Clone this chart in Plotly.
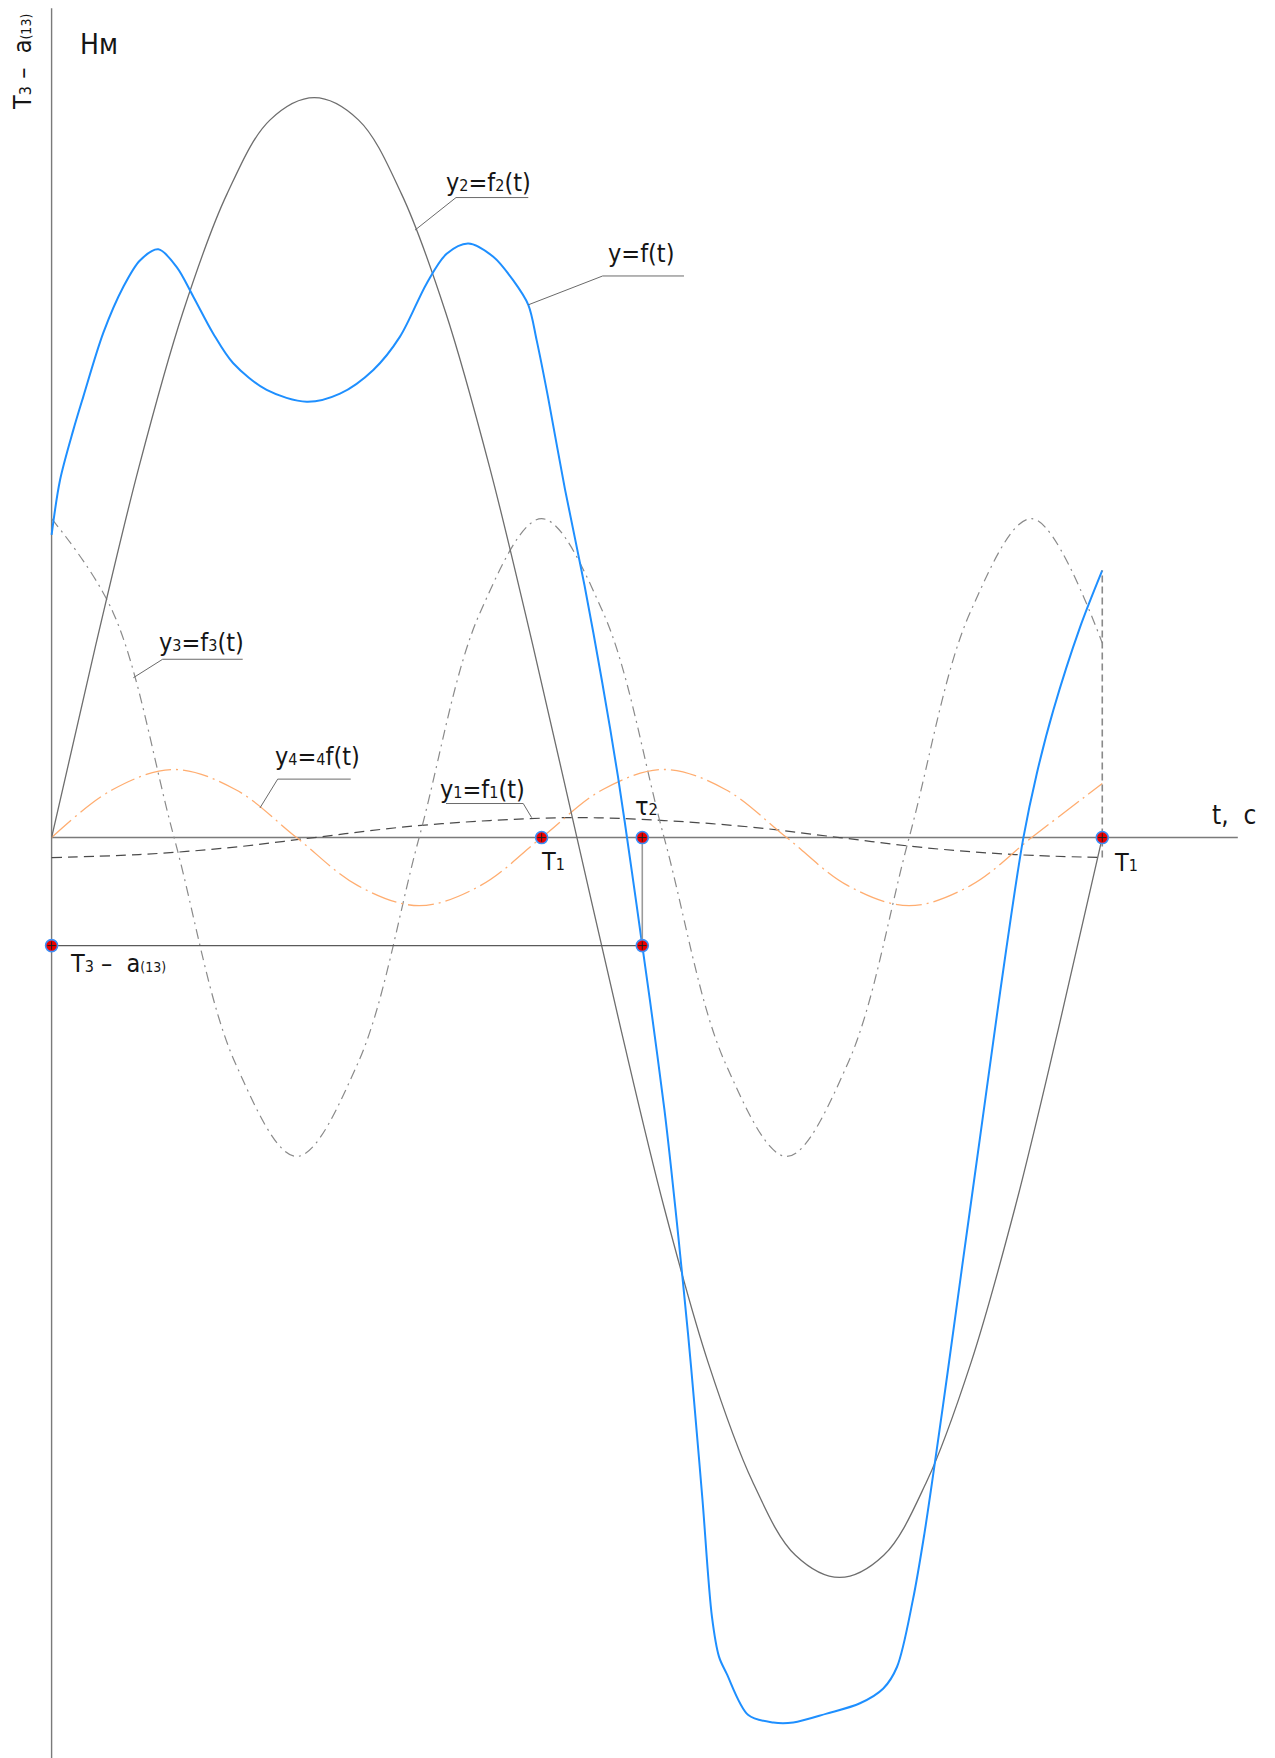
import plotly.graph_objects as go

# ---------------------------------------------------------------
# Time (one full period of y2 taken as 1) and characteristic points
# ---------------------------------------------------------------
T1 = 0.4664        # period of the 3rd/4th harmonic terms
TAU2 = 0.5622      # moment tau_2
T_END = 1.0        # end of the cycle
T3_LEVEL = -14.6   # value of y=f(t) at tau_2  (T3 - a(13))

# y2 = f2(t)
t_y2 = [0, 0.042, 0.083, 0.125, 0.167, 0.208, 0.25, 0.292, 0.333, 0.375,
        0.417, 0.458, 0.5, 0.542, 0.583, 0.625, 0.667, 0.708, 0.75, 0.792,
        0.833, 0.875, 0.917, 0.958, 1.0]
y2_vals = [0, 26, 50, 71, 87, 97, 100, 97, 87, 71, 50, 26, 0, -26, -50, -71,
           -87, -97, -100, -97, -87, -71, -50, -26, 0]

# y1 = f1(t)
t_y1 = [0, 0.083, 0.167, 0.25, 0.333, 0.417, 0.5, 0.583, 0.667, 0.75, 0.833,
        0.917, 1.0]
y1_vals = [-2.7, -2.3, -1.4, 0, 1.4, 2.3, 2.7, 2.3, 1.4, 0, -1.4, -2.3, -2.7]

# y3 = f3(t) and y4 = 4f(t)
t_y34 = [0, 0.0583, 0.1166, 0.1749, 0.2332, 0.2915, 0.3498, 0.4081, 0.4664,
         0.5247, 0.5830, 0.6413, 0.6996, 0.7579, 0.8162, 0.8745, 0.9328, 1.0]
y3_vals = [43.1, 30.5, 0, -30.5, -43.1, -30.5, 0, 30.5, 43.1, 30.5, 0, -30.5,
           -43.1, -30.5, 0, 30.5, 43.1, 26.3]
y4_vals = [0, 6.5, 9.2, 6.5, 0, -6.5, -9.2, -6.5, 0, 6.5, 9.2, 6.5, 0, -6.5,
           -9.2, -6.5, 0, 7.3]

# y = f(t), resulting curve
t_y = [0, 0.0080, 0.0207, 0.0302, 0.0492, 0.0682, 0.0841, 0.1016, 0.1191,
       0.1349, 0.1539, 0.1729, 0.2047, 0.2428, 0.2745, 0.3062, 0.3316, 0.3570,
       0.3760, 0.3966, 0.4204, 0.4394, 0.4537, 0.4617, 0.4724, 0.4886, 0.5072,
       0.5238, 0.5390, 0.5524, 0.5622, 0.5695, 0.5833, 0.5895, 0.5962, 0.6057,
       0.6114, 0.6195, 0.6285, 0.6352, 0.6425, 0.6631, 0.6869, 0.7059, 0.7377,
       0.7694, 0.7916, 0.8046, 0.8198, 0.8308, 0.8424, 0.8526, 0.8668, 0.8836,
       0.8962, 0.9090, 0.9248, 0.9376, 0.9534, 0.9788, 1.0]
y_vals = [40.9, 48.3, 55.1, 59.6, 68.2, 74.4, 78.0, 79.5, 77.1, 73.1, 68.1,
          64.1, 60.5, 58.9, 60.0, 63.2, 67.7, 74.9, 78.9, 80.3, 78.5, 75.3,
          72.0, 67.2, 59.6, 47.1, 34.1, 21.2, 8.3, -4.7, -14.6, -22.0, -36.8,
          -44.5, -53.5, -67.0, -76.0, -89.5, -105.3, -110.7, -113.0, -118.6,
          -119.6, -119.6, -118.4, -117.0, -115.0, -112.1, -103.0, -94.0,
          -82.8, -72.5, -57.8, -40.6, -27.6, -14.7, -0.1, 8.6, 17.2, 28.4,
          36.1]

# ---------------------------------------------------------------
# Drawing
# ---------------------------------------------------------------
X_RANGE = [-0.0491, 1.1644]
Y_RANGE = [-124.4, 113.2]
AXIS_X_END = 1.129
AXIS_Y_TOP = 112.1

FONT = "Liberation Sans Narrow, DejaVu Sans Condensed, Arial Narrow, sans-serif"
INK = "#151515"
AXIS_COLOR = "#7a7a7a"
LEADER_COLOR = "#6a6a6a"

fig = go.Figure()


def seg(xs, ys, color, width, dash="solid", smooth=None):
    line = dict(color=color, width=width, dash=dash)
    if smooth is not None:
        line.update(shape="spline", smoothing=smooth)
    fig.add_trace(go.Scatter(x=xs, y=ys, mode="lines", hoverinfo="skip",
                             showlegend=False, line=line))


# coordinate axes
seg([0, 0], [Y_RANGE[0], AXIS_Y_TOP], AXIS_COLOR, 1.4)
seg([0, AXIS_X_END], [0, 0], AXIS_COLOR, 1.4)

# component curves
seg(t_y1, y1_vals, "#4a4a4a", 1.2, "10px,6px", 1.0)
seg(t_y34, y3_vals, "#8a8a8a", 1.2, "10px,5px,2px,5px", 1.0)
seg(t_y34, y4_vals, "#ffad70", 1.3, "26px,5px,2px,5px", 1.0)
seg(t_y2, y2_vals, "#6e6e6e", 1.3, "solid", 1.0)

# resulting curve
seg(t_y, y_vals, "#1e8fff", 2.0, "solid", 0.9)

# construction lines at tau_2 and at the end of the cycle
seg([0, TAU2], [T3_LEVEL, T3_LEVEL], "#5a5a5a", 1.2)
seg([TAU2, TAU2], [0, T3_LEVEL], "#9a9a9a", 1.6)
seg([T_END, T_END], [y1_vals[-1], y_vals[-1]], "#8a8a8a", 1.6, "7px,4px")

# leader lines with underlines: (underline end, underline start, tip on the curve)
leaders = [
    [(0.4537, 86.5), (0.3849, 86.5), (0.3459, 82.1)],   # y2
    [(0.6019, 75.9), (0.5245, 75.9), (0.4537, 72.0)],   # y
    [(0.1819, 24.1), (0.1057, 24.1), (0.0778, 21.6)],   # y3
    [(0.2847, 7.9), (0.2152, 7.9), (0.1983, 4.0)],      # y4
    [(0.3754, 4.6), (0.4489, 4.6), (0.4569, 2.7)],      # y1
]
for pts in leaders:
    seg([p[0] for p in pts], [p[1] for p in pts], LEADER_COLOR, 1.0)

# characteristic points
pts_t = [0, T1, TAU2, TAU2, T_END]
pts_v = [T3_LEVEL, 0, 0, T3_LEVEL, 0]
fig.add_trace(go.Scatter(
    x=pts_t, y=pts_v, mode="markers", hoverinfo="skip", showlegend=False,
    marker=dict(size=12, color="#ee0000",
                line=dict(color="#3d8ff5", width=1.6))))
fig.add_trace(go.Scatter(
    x=pts_t, y=pts_v, mode="markers", hoverinfo="skip", showlegend=False,
    marker=dict(size=6, symbol="cross-thin",
                line=dict(color="#202020", width=1))))


def small(s, size=16):
    # index characters written small, sitting on the baseline
    return f"<span style='font-size:{size}px'>{s}</span>"


def label(text, x, y, size=25, xshift=0, yshift=0, angle=0):
    fig.add_annotation(text=text, x=x, y=y, xref="x", yref="y",
                       xshift=xshift, yshift=yshift, textangle=angle,
                       showarrow=False, xanchor="center", yanchor="middle",
                       font=dict(family=FONT, size=size, color=INK))


T3_TEXT = "T" + small("3") + " –  a" + small("(13)", 14)

label("Нм", 0.0451, 107.2, size=28)
label(T3_TEXT, -0.0277, 104.9, size=25, angle=-90)
label("y" + small("2") + "=f" + small("2") + "(t)", 0.4163, 88.6)
label("y=f(t)", 0.5614, 78.9)
label("y" + small("3") + "=f" + small("3") + "(t)", 0.1427, 26.4)
label("y" + small("4") + "=" + small("4") + "f(t)", 0.2531, 11.0)
label("y" + small("1") + "=f" + small("1") + "(t)", 0.4101, 6.5)
label("T" + small("1"), T1, 0, xshift=11, yshift=-24)
label("τ" + small("2"), TAU2, 0, xshift=4, yshift=31)
label("T" + small("1"), T_END, 0, xshift=24, yshift=-25)
label("t,  c", 1.1253, 3.0, size=26)
label(T3_TEXT, 0, T3_LEVEL, xshift=66, yshift=-18)

fig.update_layout(
    width=1275, height=1758, autosize=False,
    margin=dict(l=0, r=0, t=0, b=0, pad=0),
    paper_bgcolor="white", plot_bgcolor="white",
    xaxis=dict(range=X_RANGE, visible=False, fixedrange=True),
    yaxis=dict(range=Y_RANGE, visible=False, fixedrange=True),
)

fig.write_html("out.html")
